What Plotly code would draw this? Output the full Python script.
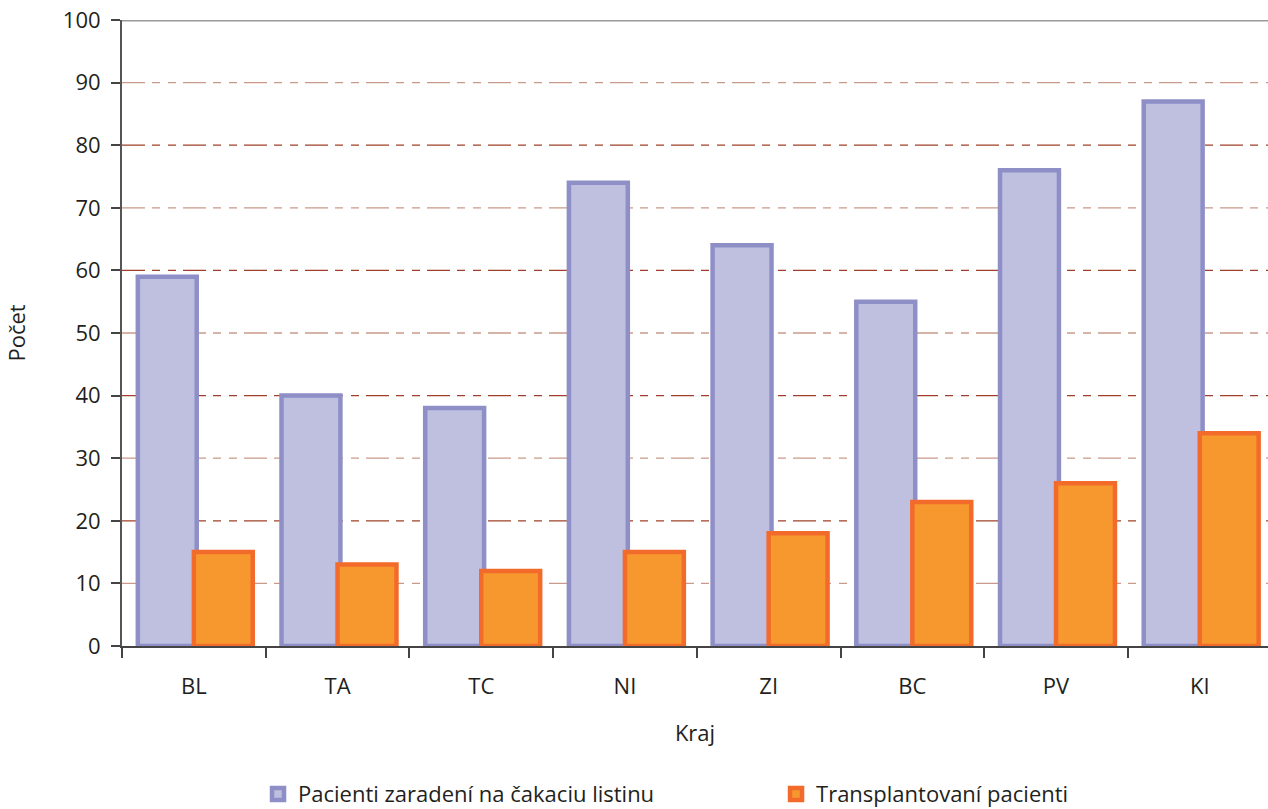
import plotly.graph_objects as go

categories = ["BL", "TA", "TC", "NI", "ZI", "BC", "PV", "KI"]
waiting = [59, 40, 38, 74, 64, 55, 76, 87]
transplanted = [15, 13, 12, 15, 18, 23, 26, 34]
series_names = ["Pacienti zaradení na čakaciu listinu", "Transplantovaní pacienti"]
y_ticks = [0, 10, 20, 30, 40, 50, 60, 70, 80, 90, 100]

fig = go.Figure()
fig.add_trace(go.Bar(
    x=categories, y=waiting, name=series_names[0],
    offset=-0.39, width=0.41,
    marker=dict(color="#BFBFDF", line=dict(color="#8F8FC8", width=4.5)),
))
fig.add_trace(go.Bar(
    x=categories, y=transplanted, name=series_names[1],
    offset=-0.0, width=0.41,
    marker=dict(color="#F7982E", line=dict(color="#F26B2B", width=4.5)),
))

shapes = []
for v in y_ticks[1:-1]:
    dark = (v % 20 == 0)
    shapes.append(dict(
        type="line", xref="paper", yref="y", x0=0, x1=1, y0=v, y1=v,
        layer="below",
        line=dict(color="#A0402A" if dark else "#C99A8A", width=1.3,
                  dash="23px,7px,8px,8px,8px,7px"),
    ))
shapes.append(dict(type="line", xref="paper", yref="y", x0=0, x1=1, y0=100, y1=100,
                   layer="above", line=dict(color="#9A9A9A", width=3)))

fig.update_layout(
    barmode="overlay",
    width=1268, height=809,
    margin=dict(l=122, r=0, t=20, b=163, autoexpand=False),
    plot_bgcolor="white", paper_bgcolor="white",
    font=dict(family="Open Sans", size=22, color="#231F20"),
    shapes=shapes,
    showlegend=True,
    legend=dict(orientation="h", x=0.1187, xanchor="left", y=-0.203, yanchor="top",
                font=dict(family="Open Sans", size=22, color="#231F20"),
                traceorder="normal", entrywidth=473, itemwidth=30),
    xaxis=dict(
        title=dict(text="Kraj", font=dict(size=22), standoff=26),
        range=[-0.5, 7.475],
        showline=True, linecolor="#444", linewidth=2,
        ticks="outside", tickson="boundaries", ticklen=10, tickcolor="#444", tickwidth=1.5,
        ticklabelstandoff=20,
        showgrid=False, tickfont=dict(size=22),
    ),
    yaxis=dict(
        title=dict(text="Počet", font=dict(size=22), standoff=31),
        range=[0, 100], tickvals=y_ticks,
        showline=True, linecolor="#555", linewidth=2,
        ticks="outside", ticklen=9, tickcolor="#444", tickwidth=1.5,
        ticklabelstandoff=6, ticklabeloverflow="allow",
        showgrid=False, zeroline=False, tickfont=dict(size=22),
    ),
)

fig.write_html("out.html", config={"displayModeBar": False},
               post_script="document.body.style.margin='0';document.body.style.overflow='hidden';")
